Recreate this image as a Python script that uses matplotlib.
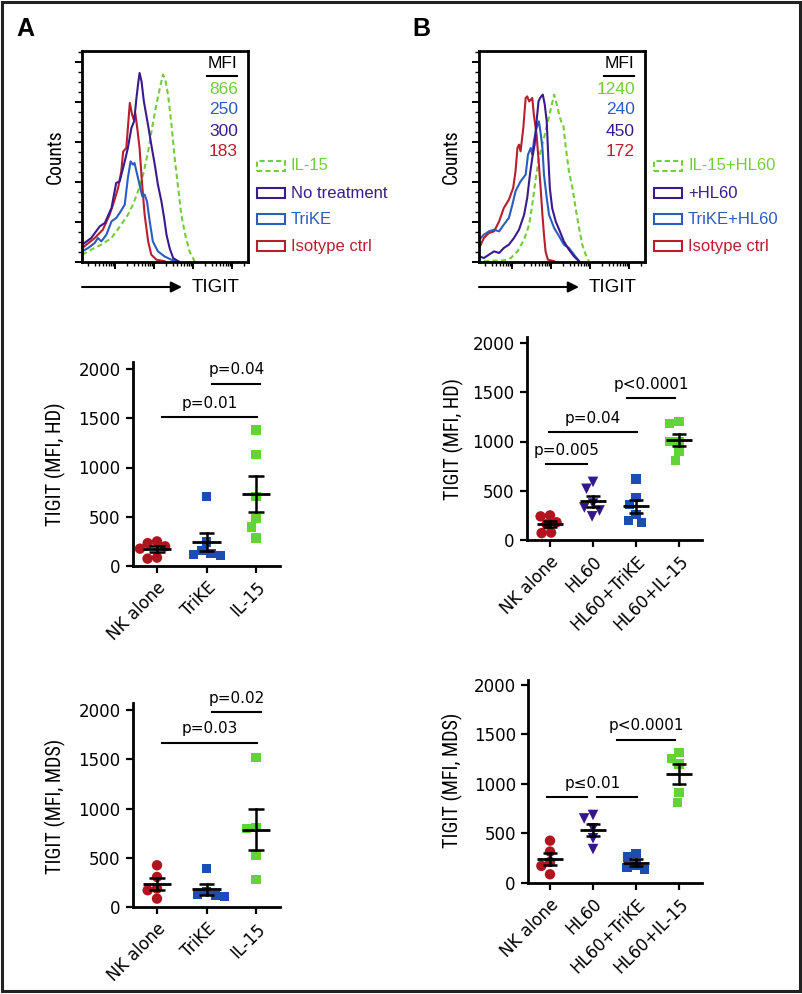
import numpy as np
import matplotlib
matplotlib.use('Agg')
import matplotlib.pyplot as plt
from matplotlib import font_manager as fm
from matplotlib.patches import Rectangle
from matplotlib.lines import Line2D
from matplotlib.ticker import MultipleLocator, LogLocator, NullFormatter

# ---------------- DATA ----------------
# Histograms: x = log10(TIGIT fluorescence), y = counts
hA_iso_x = [1.16, 1.48, 1.69, 1.86, 1.95, 2.08, 2.16, 2.21, 2.29, 2.33, 2.38, 2.44, 2.48, 2.52, 2.57, 2.63, 2.69, 2.76, 2.85, 2.93, 3.06, 3.27]
hA_iso_y = [17.5, 30, 40.5, 59, 71.7, 92.5, 113, 138, 142.5, 167.5, 198.8, 184, 178, 186.3, 167.5, 142.5, 100.8, 59, 25.8, 9.2, 2.9, 1.0]
hA_none_x = [1.16, 1.39, 1.61, 1.74, 1.91, 2.03, 2.12, 2.25, 2.33, 2.42, 2.49, 2.55, 2.59, 2.63, 2.68, 2.74, 2.80, 2.86, 2.93, 3.02, 3.10, 3.19, 3.26, 3.32, 3.40, 3.49, 3.62]
hA_none_y = [21.7, 30, 44.6, 48.8, 67.5, 98.8, 100.8, 125.8, 142.5, 167.5, 175.8, 205, 221.7, 236.3, 225.8, 200.8, 184.2, 167.5, 146.7, 121.7, 96.7, 75.8, 55, 34.2, 17.5, 5, 1.0]
hA_trike_x = [1.16, 1.31, 1.48, 1.56, 1.65, 1.78, 1.91, 2.03, 2.12, 2.25, 2.33, 2.40, 2.46, 2.50, 2.57, 2.63, 2.70, 2.76, 2.82, 2.89, 2.97, 3.10, 3.27, 3.44, 3.62]
hA_trike_y = [13.3, 17.5, 23.8, 30, 25.8, 34.2, 50.8, 55, 61.3, 71.7, 105, 125.8, 121.7, 123.8, 109, 96.7, 82, 84.2, 75.8, 50.8, 25.8, 13.3, 7, 2.9, 1.0]
hA_il15_x = [1.16, 1.39, 1.65, 1.91, 2.16, 2.33, 2.46, 2.59, 2.72, 2.85, 2.95, 3.06, 3.15, 3.23, 3.29, 3.36, 3.44, 3.53, 3.62, 3.70, 3.80, 3.91, 4.04]
hA_il15_y = [9.2, 15.4, 21.7, 30, 46.7, 59, 71.7, 88.3, 109, 138, 167.5, 196.7, 217.5, 234.2, 228, 209, 175.8, 130, 92.5, 59, 34.2, 13.3, 1.0]

hB_iso_x = [1.16, 1.28, 1.41, 1.54, 1.67, 1.79, 1.92, 2.03, 2.09, 2.14, 2.18, 2.22, 2.29, 2.35, 2.39, 2.44, 2.48, 2.52, 2.56, 2.63, 2.69, 2.74, 2.78, 2.82, 2.86, 2.92, 3.08]
hB_iso_y = [17.5, 30, 36.3, 38.3, 50.8, 67.5, 77.9, 92.5, 113.3, 142.5, 146.7, 138.3, 167.5, 205, 207, 200.8, 202.9, 205, 184.2, 159.2, 121.7, 88.3, 59, 34.2, 13.3, 2.9, 1.0]
hB_hl60_x = [1.16, 1.28, 1.41, 1.54, 1.67, 1.79, 1.92, 2.05, 2.18, 2.31, 2.39, 2.46, 2.52, 2.58, 2.63, 2.68, 2.72, 2.75, 2.79, 2.84, 2.89, 2.92, 2.97, 3.03, 3.12, 3.21, 3.33, 3.46, 3.59, 3.72]
hB_hl60_y = [7, 5, 9.2, 13.3, 11.3, 17.5, 21.7, 30, 40.4, 59, 80, 109.2, 130, 146.7, 175.8, 200.8, 205, 207, 209.2, 196.7, 175.8, 142.5, 92.5, 67.5, 50.8, 40.4, 25.8, 15.4, 7, 1.0]
hB_trike_x = [1.16, 1.28, 1.41, 1.54, 1.67, 1.79, 1.92, 2.01, 2.09, 2.22, 2.35, 2.41, 2.48, 2.52, 2.56, 2.63, 2.69, 2.74, 2.78, 2.82, 2.89, 2.95, 3.08, 3.21, 3.33, 3.46, 3.59, 3.72]
hB_trike_y = [27.9, 34.2, 38.3, 40.4, 38.3, 46.7, 55, 71.7, 88.3, 100.8, 109.2, 134.2, 142.5, 134.2, 150.8, 167.5, 175.8, 159.2, 142.5, 109.2, 80, 59, 42.5, 32, 21.7, 17.5, 9.2, 1.0]
hB_il15_x = [1.28, 1.54, 1.79, 1.97, 2.14, 2.31, 2.44, 2.52, 2.61, 2.69, 2.82, 2.92, 3.01, 3.08, 3.15, 3.21, 3.26, 3.32, 3.38, 3.46, 3.55, 3.63, 3.72, 3.80, 3.89, 3.97]
hB_il15_y = [0.8, 1.7, 2, 5, 13.3, 27.9, 46.7, 71.7, 105, 130, 155, 175.8, 194.6, 209.2, 196.7, 184.2, 175.8, 169.6, 142.5, 113.3, 92.5, 67.5, 42.5, 21.7, 9.2, 1.0]

mfi_A = ['866', '250', '300', '183']
mfi_B = ['1240', '240', '450', '172']
legend_A = ['IL-15', 'No treatment', 'TriKE', 'Isotype ctrl']
legend_B = ['IL-15+HL60', '+HL60', 'TriKE+HL60', 'Isotype ctrl']

# Dot plots (TIGIT MFI)
cats_A = ['NK alone', 'TriKE', 'IL-15']
cats_B = ['NK alone', 'HL60', 'HL60+TriKE', 'HL60+IL-15']

hdA_nk = [250, 176, 85, 75, 200, 232]
hdA_trike = [708, 244, 115, 108, 159, 125]
hdA_il15 = [1380, 1132, 708, 481, 397, 285]

hdB_nk = [250, 240, 180, 160, 75, 70]
hdB_hl60 = [590, 520, 370, 330, 300, 240]
hdB_trike = [620, 430, 360, 260, 200, 180]
hdB_il15 = [1180, 1200, 1000, 1000, 900, 810]

mdsA_nk = [426, 308, 190, 173, 88]
mdsA_trike = [390, 160, 130, 120, 110]
mdsA_il15 = [1520, 810, 800, 530, 280]

mdsB_nk = [425, 315, 210, 170, 85]
mdsB_hl60 = [685, 650, 550, 450, 340]
mdsB_trike = [295, 260, 180, 150, 130]
mdsB_il15 = [1320, 1260, 1200, 910, 815]

# comparisons: (x_start, x_end, y_level, label)
compA_hd = [(0.10, 2.03, 1510, 'p=0.01'), (1.12, 2.09, 1850, 'p=0.04')]
compB_hd = [(-0.09, 0.85, 770, 'p=0.005'), (-0.02, 2.02, 1096, 'p=0.04'), (1.79, 2.91, 1441, 'p<0.0001')]
compA_mds = [(0.10, 2.03, 1668, 'p=0.03'), (1.12, 2.11, 1976, 'p=0.02')]
compB_mds = [(1.55, 2.91, 1447, 'p<0.0001')]
compB_mds_split = [(-0.08, 0.85, 862), (1.09, 2.03, 862)]

# ---------------- STYLE ----------------
W, H = 802, 994
fig = plt.figure(figsize=(W / 100, H / 100), dpi=100)
plt.rcParams['font.family'] = ['Liberation Sans', 'DejaVu Sans']

C_GREEN_H = '#74cc3a'
C_PURPLE_H = '#3a1a8e'
C_BLUE_H = '#2b5cbf'
C_RED_H = '#b81e2e'

C_RED = '#b0141f'
C_BLUE = '#1d4db0'
C_PURPLE = '#34178a'
C_GREEN = '#62d43a'

# pick a condensed font if one is installed
_names = {f.name for f in fm.fontManager.ttflist}
NARROW = None
for nm in ['Liberation Sans Narrow', 'Roboto Condensed', 'DejaVu Sans Condensed',
           'Noto Sans Condensed', 'Open Sans Condensed', 'Arial Narrow']:
    if nm in _names:
        NARROW = [nm, 'DejaVu Sans']
        break
if NARROW is None:
    NARROW = ['Liberation Sans', 'DejaVu Sans']
# available condensed faces are wider than the original's, so let labels run a bit longer
LEN_F = 1.1

DOTFONT = ['DejaVu Sans']


def fx(x):
    return x / W


def fy(y):
    return 1 - y / H


def px_axes(x0, y0, x1, y1):
    return fig.add_axes([x0 / W, 1 - y1 / H, (x1 - x0) / W, (y1 - y0) / H])


_renderer = fig.canvas.get_renderer()


def vlabel(x, y, s, target_len, size0=13.5):
    t = fig.text(fx(x), fy(y), s, rotation=90, fontsize=size0, family=NARROW,
                 ha='center', va='center')
    ext = t.get_window_extent(renderer=_renderer)
    if ext.height > 0:
        t.set_fontsize(size0 * target_len * LEN_F / ext.height)
    return t


# outer frame
fig.patches.append(Rectangle((fx(2), fy(991)), fx(799.5) - fx(2), fy(2) - fy(991),
                             transform=fig.transFigure, fill=False, lw=2.2, ec='#222222'))

# panel letters
fig.text(fx(16), fy(29), 'A', fontsize=18, fontweight='bold', ha='left', va='center')
fig.text(fx(412), fy(29), 'B', fontsize=18, fontweight='bold', ha='left', va='center')


def histogram(x0, curves, mfi, legend, counts_x):
    ax = px_axes(x0, 51, x0 + 166, 262)
    ax.set_xscale('log')
    for xs, ys, col, ls in curves:
        ax.plot(10 ** np.asarray(xs), ys, color=col, lw=1.5, ls=ls, solid_joinstyle='round')
    ax.set_xlim(10 ** 1.154, 10 ** 5.41)
    ax.set_ylim(0, 263.75)
    ax.yaxis.set_major_locator(MultipleLocator(50))
    ax.yaxis.set_minor_locator(MultipleLocator(12.5))
    ax.xaxis.set_major_locator(LogLocator(base=10, numticks=10))
    ax.xaxis.set_minor_locator(LogLocator(base=10, subs=np.arange(2, 10), numticks=20))
    ax.xaxis.set_major_formatter(NullFormatter())
    ax.xaxis.set_minor_formatter(NullFormatter())
    ax.yaxis.set_major_formatter(NullFormatter())
    ax.tick_params(which='major', direction='out', length=5, width=1.4)
    ax.tick_params(which='minor', direction='out', length=3, width=1.0)
    for s in ax.spines.values():
        s.set_linewidth(2)
    # MFI column
    xr = x0 + 156
    fig.text(fx(xr - 16), fy(64), 'MFI', fontsize=12.5, ha='center', va='center')
    fig.add_artist(Line2D([fx(xr - 31), fx(xr - 1)], [fy(76), fy(76)], color='black', lw=1.5))
    cols = [C_GREEN_H, C_BLUE_H, C_PURPLE_H, C_RED_H]
    for k, (m, c) in enumerate(zip(mfi, cols)):
        fig.text(fx(xr), fy(89 + 21 * k), m, fontsize=12.5, color=c, ha='right', va='center')
    # legend
    lcols = [C_GREEN_H, C_PURPLE_H, C_BLUE_H, C_RED_H]
    lls = ['--', '-', '-', '-']
    bx = x0 + 175
    for k, (lab, c, ls) in enumerate(zip(legend, lcols, lls)):
        yc = [166, 193, 219, 246][k]
        r = Rectangle((fx(bx), fy(yc + 5)), fx(28), 10 / H, transform=fig.transFigure,
                      fill=False, ec=c, lw=1.5, ls=ls if ls == '-' else (0, (2.5, 1.5)))
        fig.patches.append(r)
        fig.text(fx(bx + 34), fy(yc), lab, fontsize=12, color=c, ha='left', va='center')
    # Counts label
    vlabel(counts_x, 157, 'Counts', 50)
    # TIGIT arrow
    ax.annotate('', xy=(fx(x0 + 100), fy(287)), xytext=(fx(x0), fy(287)),
                xycoords='figure fraction', textcoords='figure fraction',
                arrowprops=dict(arrowstyle='-|>', lw=1.5, color='black', mutation_scale=16,
                                shrinkA=0, shrinkB=0))
    fig.text(fx(x0 + 110), fy(288), 'TIGIT', fontsize=13.5, ha='left', va='center')
    return ax


DASH = (0, (2.5, 1.6))
histogram(82, [(hA_il15_x, hA_il15_y, C_GREEN_H, DASH),
               (hA_iso_x, hA_iso_y, C_RED_H, '-'),
               (hA_trike_x, hA_trike_y, C_BLUE_H, '-'),
               (hA_none_x, hA_none_y, C_PURPLE_H, '-')],
          mfi_A, legend_A, 55)
histogram(479, [(hB_il15_x, hB_il15_y, C_GREEN_H, DASH),
                (hB_iso_x, hB_iso_y, C_RED_H, '-'),
                (hB_trike_x, hB_trike_y, C_BLUE_H, '-'),
                (hB_hl60_x, hB_hl60_y, C_PURPLE_H, '-')],
          mfi_B, legend_B, 451)


def swarm_offsets(vals, ppu_x, ppu_y, d):
    vals = np.asarray(vals, float)
    order = np.argsort(-vals, kind='stable')
    placed = []
    offs = np.zeros(len(vals))
    for i in order:
        y = vals[i] * ppu_y
        intervals = []
        for xp, yp in placed:
            dy = abs(y - yp)
            if dy < d:
                w = np.sqrt(d * d - dy * dy)
                intervals.append((xp - w, xp + w))
        cands = [0.0] + [e for iv in intervals for e in iv]
        cands.sort(key=lambda c: (round(abs(c), 6), c))
        chosen = 0.0
        for c in cands:
            if all(not (lo + 1e-6 < c < hi - 1e-6) for lo, hi in intervals):
                chosen = c
                break
        offs[i] = chosen / ppu_x
        placed.append((chosen, y))
    return offs


def dotplot(box, cats, groups, styles, comps, ylabel, ylab_xy, ylab_len, mean_hw, cap_hw, split=None):
    xl, xr, ytop, y0, y2000, t0, sp = box
    ax = px_axes(xl, ytop, xr, y0)
    ax.set_xlim((xl - t0) / sp, (xr - t0) / sp)
    ax.set_ylim(0, 2000 * (y0 - ytop) / (y0 - y2000))
    ppu_x = sp
    ppu_y = (y0 - y2000) / 2000.0
    for i, (vals, (mk, col, sz)) in enumerate(zip(groups, styles)):
        offs = swarm_offsets(vals, ppu_x, ppu_y, 9.5)
        ax.scatter(i + offs, vals, marker=mk, s=sz, color=col, edgecolors='none', zorder=3,
                   clip_on=False)
        m = np.mean(vals)
        se = np.std(vals, ddof=1) / np.sqrt(len(vals))
        ax.plot([i - mean_hw, i + mean_hw], [m, m], color='black', lw=2, zorder=4,
                solid_capstyle='butt')
        ax.plot([i, i], [m - se, m + se], color='black', lw=1.8, zorder=4)
        for yy in (m - se, m + se):
            ax.plot([i - cap_hw, i + cap_hw], [yy, yy], color='black', lw=1.8, zorder=4,
                    solid_capstyle='butt')
    off = 14 / ppu_y
    for a, b, yv, lab in comps:
        ax.plot([a, b], [yv, yv], color='black', lw=1.5, clip_on=False)
        ax.text((a + b) / 2, yv + off, lab, ha='center', va='center', fontsize=11,
                family=DOTFONT, clip_on=False)
    if split is not None:
        for a, b, yv in split[0]:
            ax.plot([a, b], [yv, yv], color='black', lw=1.5, clip_on=False)
        ax.text(split[1][0], split[0][0][2] + off, split[1][1], ha='center', va='center',
                fontsize=11, family=DOTFONT)
    ax.spines['top'].set_visible(False)
    ax.spines['right'].set_visible(False)
    ax.spines['left'].set_linewidth(2)
    ax.spines['bottom'].set_linewidth(2)
    ax.set_yticks([0, 500, 1000, 1500, 2000])
    ax.set_yticklabels(['0', '500', '1000', '1500', '2000'], family=DOTFONT, fontsize=12)
    ax.set_xticks(range(len(cats)))
    ax.set_xticklabels(cats, rotation=45, ha='right', va='top', rotation_mode='anchor',
                       family=DOTFONT, fontsize=12)
    ax.tick_params(direction='out', length=5, width=1.6, pad=4)
    vlabel(ylab_xy[0], ylab_xy[1], ylabel, ylab_len)
    return ax


st_A = [('o', C_RED, 56), ('s', C_BLUE, 44), ('s', C_GREEN, 44)]
st_B = [('o', C_RED, 56), ('v', C_PURPLE, 58), ('s', C_BLUE, 44), ('s', C_GREEN, 44)]

dotplot((133, 280, 362, 566, 369, 157, 49.5), cats_A, [hdA_nk, hdA_trike, hdA_il15], st_A,
        compA_hd, 'TIGIT (MFI, HD)', (55, 464), 112, 0.29, 0.16)
dotplot((527, 701.7, 337, 540, 343, 550, 43), cats_B, [hdB_nk, hdB_hl60, hdB_trike, hdB_il15], st_B,
        compB_hd, 'TIGIT (MFI, HD)', (453, 439), 110, 0.3, 0.17)
dotplot((133, 280, 702.7, 907.3, 710, 157, 49.5), cats_A, [mdsA_nk, mdsA_trike, mdsA_il15], st_A,
        compA_mds, 'TIGIT (MFI, MDS)', (55, 806), 122, 0.29, 0.16)
dotplot((528.3, 701.7, 680, 882.7, 685, 550, 43), cats_B, [mdsB_nk, mdsB_hl60, mdsB_trike, mdsB_il15], st_B,
        compB_mds, 'TIGIT (MFI, MDS)', (452, 780), 123, 0.3, 0.17,
        split=(compB_mds_split, (1.0, 'p≤0.01')))

fig.savefig('out.png', dpi=100)
